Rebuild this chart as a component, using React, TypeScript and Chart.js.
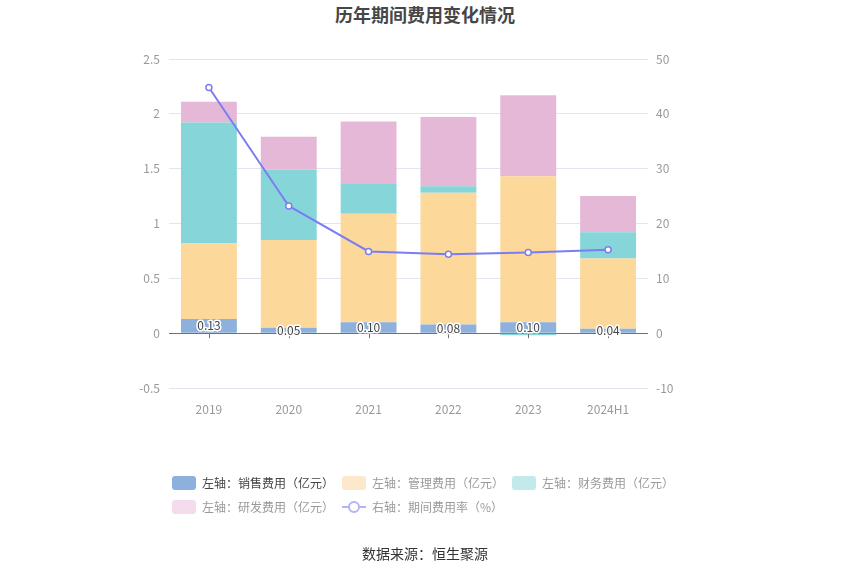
import React, { useEffect, useRef } from 'react'
import { Chart, registerables } from 'chart.js'

Chart.register(...registerables)

const years = ['2019', '2020', '2021', '2022', '2023', '2024H1']
const sales = [0.13, 0.05, 0.1, 0.08, 0.1, 0.04]
const admin = [0.69, 0.8, 0.99, 1.2, 1.33, 0.64]
const finance = [1.1, 0.64, 0.27, 0.06, -0.02, 0.24]
const rnd = [0.19, 0.3, 0.57, 0.63, 0.74, 0.33]
const rate = [44.8, 23.2, 14.9, 14.4, 14.7, 15.2]

const FONT = '"Noto Sans CJK SC", "Noto Sans", sans-serif'

const legendItems = [
  { label: '左轴：销售费用（亿元）', color: '#8eb0dc', text: '#444', line: false },
  { label: '左轴：管理费用（亿元）', color: '#fde8cb', text: '#9a9a9a', line: false },
  { label: '左轴：财务费用（亿元）', color: '#c3eaeb', text: '#9a9a9a', line: false },
  { label: '左轴：研发费用（亿元）', color: '#f4dcec', text: '#9a9a9a', line: false },
  { label: '右轴：期间费用率（%）', color: '#b3b3f6', text: '#9a9a9a', line: true },
]

// small ticks on the zero line + value labels on the sales segment
const extras = {
  id: 'extras',
  afterDatasetsDraw(chart: any) {
    const ctx = chart.ctx
    const y0 = chart.scales.y.getPixelForValue(0)
    ctx.save()
    ctx.strokeStyle = '#6e7079'
    ctx.lineWidth = 1
    chart.scales.x.ticks.forEach((_t: any, i: number) => {
      const x = Math.round(chart.scales.x.getPixelForTick(i)) + 0.5
      ctx.beginPath()
      ctx.moveTo(x, y0)
      ctx.lineTo(x, y0 + 5)
      ctx.stroke()
    })
    const meta = chart.getDatasetMeta(0)
    ctx.font = `12px ${FONT}`
    ctx.textAlign = 'center'
    ctx.textBaseline = 'middle'
    ctx.lineJoin = 'round'
    meta.data.forEach((bar: any, i: number) => {
      const cy = (bar.y + bar.base) / 2
      const txt = sales[i].toFixed(2)
      ctx.strokeStyle = '#fff'
      ctx.lineWidth = 3
      ctx.strokeText(txt, bar.x, cy)
      ctx.fillStyle = '#444'
      ctx.fillText(txt, bar.x, cy)
    })
    ctx.restore()
  },
}

const App = () => {
  const chartRef = useRef<HTMLCanvasElement>(null)

  useEffect(() => {
    if (!chartRef.current) return
    const ctx = chartRef.current.getContext('2d')
    if (!ctx) return

    const bar = (label: string, data: number[], color: string) => ({
      type: 'bar' as const,
      label,
      data,
      backgroundColor: color,
      stack: 's',
      yAxisID: 'y',
      order: 1,
      barPercentage: 0.7,
      categoryPercentage: 1,
    })

    const chart = new Chart(ctx, {
      data: {
        labels: years,
        datasets: [
          bar('销售费用', sales, '#8eb0dc'),
          bar('管理费用', admin, '#fdd89b'),
          bar('财务费用', finance, '#86d5d8'),
          bar('研发费用', rnd, '#e6b8d8'),
          {
            type: 'line',
            label: '期间费用率',
            data: rate,
            yAxisID: 'y1',
            order: 0,
            borderColor: '#7b7ef0',
            borderWidth: 2,
            pointRadius: 3,
            pointBackgroundColor: '#fff',
            pointBorderColor: '#7b7ef0',
            pointBorderWidth: 1.5,
            tension: 0,
          },
        ],
      },
      options: {
        animation: false,
        responsive: true,
        maintainAspectRatio: false,
        layout: { padding: { top: 59, bottom: 157, left: 0, right: 0 } },
        plugins: {
          legend: { display: false },
          tooltip: { enabled: false },
        },
        scales: {
          x: {
            stacked: true,
            grid: { display: false },
            border: { display: false },
            ticks: { color: '#999', font: { size: 12, family: FONT }, padding: 6 },
            afterFit: (s: any) => { s.height = 30 },
          },
          y: {
            position: 'left',
            stacked: true,
            min: -0.5,
            max: 2.5,
            ticks: {
              stepSize: 0.5,
              color: '#999',
              font: { size: 12, family: FONT },
              padding: 9,
              callback: (v: any) => `${v}`,
            },
            grid: {
              drawTicks: false,
              color: (c: any) => (c.tick && c.tick.value === 0 ? '#6e7079' : '#e0e6f1'),
            },
            border: { display: false },
            afterFit: (s: any) => { s.width = 169 },
          },
          y1: {
            position: 'right',
            min: -10,
            max: 50,
            ticks: {
              stepSize: 10,
              color: '#999',
              font: { size: 12, family: FONT },
              padding: 8,
              callback: (v: any) => `${v}`,
            },
            grid: { display: false, drawTicks: false },
            border: { display: false },
            afterFit: (s: any) => { s.width = 202 },
          },
        },
      },
      plugins: [extras],
    })

    return () => {
      chart.destroy()
    }
  }, [])

  return (
    <div style={{ position: 'fixed', left: 0, top: 0, width: 850, height: 575, background: '#fff', fontFamily: FONT }}>
      <div style={{ position: 'absolute', top: 2, left: 0, width: 850, textAlign: 'center', fontSize: 18, fontWeight: 'bold', color: '#464646', lineHeight: '24px' }}>
        历年期间费用变化情况
      </div>
      <div style={{ position: 'absolute', left: 0, top: 0, width: 850, height: 575 }}>
        <canvas ref={chartRef} />
      </div>
      {legendItems.map((it, i) => {
        const left = 172 + (i % 3) * 170
        const top = 476 + Math.floor(i / 3) * 24
        return (
          <div key={it.label} style={{ position: 'absolute', left, top, height: 14, display: 'flex', alignItems: 'center', whiteSpace: 'nowrap' }}>
            {it.line ? (
              <svg width={24} height={14} style={{ display: 'block' }}>
                <line x1={0} y1={7} x2={24} y2={7} stroke={it.color} strokeWidth={2} />
                <circle cx={12} cy={7} r={5} fill="#fff" stroke={it.color} strokeWidth={2} />
              </svg>
            ) : (
              <div style={{ width: 24, height: 14, borderRadius: 3, background: it.color }} />
            )}
            <span style={{ marginLeft: 6, fontSize: 12, color: it.text, lineHeight: '14px' }}>{it.label}</span>
          </div>
        )
      })}
      <div style={{ position: 'absolute', top: 544, left: 0, width: 850, textAlign: 'center', fontSize: 14, color: '#333', lineHeight: '18px' }}>
        数据来源：恒生聚源
      </div>
    </div>
  )
}

export default App
